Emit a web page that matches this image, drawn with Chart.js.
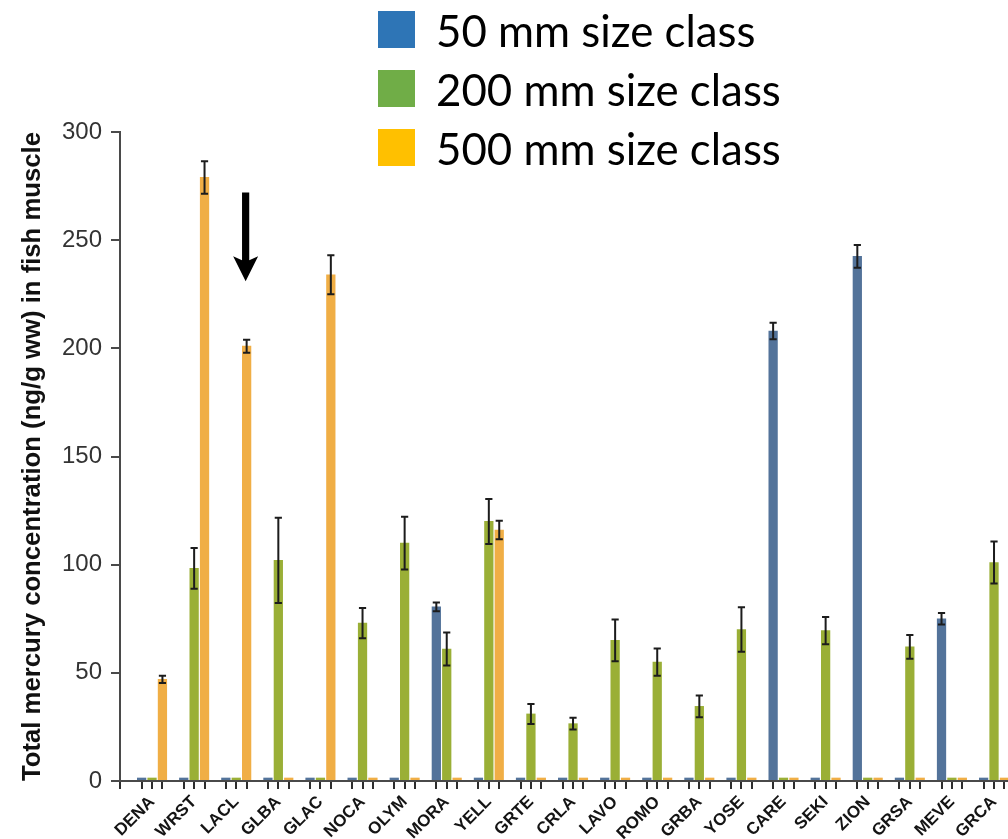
<!DOCTYPE html>
<html>
<head>
<meta charset="utf-8">
<script src="https://cdn.jsdelivr.net/npm/chart.js@4.4.1/dist/chart.umd.min.js"></script>
<style>
  html, body { margin: 0; padding: 0; background: #fff; overflow: hidden; }
  #wrap { position: relative; width: 1008px; height: 839px; }
  #legend { position: absolute; left: 378px; top: 11px; font-family: Lato, "Open Sans", sans-serif; font-size: 43.8px; color: #000; }
  #legend .item { display: flex; align-items: center; height: 37px; margin-bottom: 22px; white-space: nowrap; }
  #legend .sw { width: 37px; height: 37px; margin-right: 21px; flex: none; }
</style>
</head>
<body>
<div id="wrap">
  <canvas id="chart" width="1008" height="839"></canvas>
  <div id="legend"></div>
</div>
<script>
// Park units
const categories = ['DENA','WRST','LACL','GLBA','GLAC','NOCA','OLYM','MORA','YELL','GRTE','CRLA',
                    'LAVO','ROMO','GRBA','YOSE','CARE','SEKI','ZION','GRSA','MEVE','GRCA'];

// Mean total Hg (ng/g ww) per size class, with standard errors
const mm50     = [0, 0, 0, 0, 0, 0, 0, 80.5, 0, 0, 0, 0, 0, 0, 0, 208, 0, 242.5, 0, 75, 0];
const mm50Err  = [0, 0, 0, 0, 0, 0, 0, 2, 0, 0, 0, 0, 0, 0, 0, 3.8, 0, 5.3, 0, 2.7, 0];
const mm200    = [0, 98.3, 0, 102, 0, 73, 110, 61, 120, 31, 26.5, 65, 55, 34.5, 70, 0, 69.5, 0, 62, 0, 101];
const mm200Err = [0, 9.4, 0, 19.7, 0, 7, 12.2, 7.6, 10.4, 4.6, 2.7, 9.6, 6.3, 5, 10.3, 0, 6.3, 0, 5.5, 0, 9.7];
const mm500    = [47, 279, 201, 0, 234, 0, 0, 0, 116, 0, 0, 0, 0, 0, 0, 0, 0, 0, 0, 0, 0];
const mm500Err = [1.7, 7.5, 3, 0, 9, 0, 0, 0, 4.3, 0, 0, 0, 0, 0, 0, 0, 0, 0, 0, 0, 0];

const seriesLabels = ['50 mm size class', '200 mm size class', '500 mm size class'];
const barColors    = ['#53739A', '#9AAF36', '#F0AE45'];
const legendColors = ['#2E75B6', '#70AD47', '#FFC000'];

const yTicks = [0, 50, 100, 150, 200, 250, 300];

// Call-out arrow pointing at the LACL 500 mm bar (value range of the arrow)
const arrowSite = 'LACL';
const arrowSeries = 2;
const arrowFromTo = [272, 231];

// Offset of each bar within its group, in category units
const GROUP_STEP = 0.247;

const toPoints = (arr) => arr.map((v, i) => ({ x: i, y: v }));

const errorBars = {
  id: 'errorBars',
  afterDatasetsDraw(chart) {
    const ctx = chart.ctx;
    const ys = chart.scales.y;
    ctx.save();
    ctx.strokeStyle = '#1c1c1c';
    ctx.lineWidth = 2;
    chart.data.datasets.forEach((ds, di) => {
      const meta = chart.getDatasetMeta(di);
      ds.errors.forEach((e, i) => {
        if (!e) return;
        const bar = meta.data[i];
        const v = ds.data[i].y;
        const top = ys.getPixelForValue(v + e);
        const bot = ys.getPixelForValue(v - e);
        const cap = 3.6;
        ctx.beginPath();
        ctx.moveTo(bar.x, top); ctx.lineTo(bar.x, bot);
        ctx.moveTo(bar.x - cap, top); ctx.lineTo(bar.x + cap, top);
        ctx.moveTo(bar.x - cap, bot); ctx.lineTo(bar.x + cap, bot);
        ctx.stroke();
      });
    });
    ctx.restore();
  }
};

const calloutArrow = {
  id: 'calloutArrow',
  afterDraw(chart) {
    const ctx = chart.ctx;
    const ys = chart.scales.y;
    const idx = categories.indexOf(arrowSite);
    const bar = chart.getDatasetMeta(arrowSeries).data[idx];
    const x = bar.x - 1;
    const yTail = ys.getPixelForValue(arrowFromTo[0]);
    const yTip = ys.getPixelForValue(arrowFromTo[1]);
    const shaft = 3.6, head = 12.5, headLen = 25;
    ctx.save();
    ctx.fillStyle = '#000';
    ctx.beginPath();
    ctx.moveTo(x - shaft, yTail);
    ctx.lineTo(x + shaft, yTail);
    ctx.lineTo(x + shaft, yTip - headLen + 4);
    ctx.lineTo(x + head, yTip - headLen);
    ctx.lineTo(x, yTip);
    ctx.lineTo(x - head, yTip - headLen);
    ctx.lineTo(x - shaft, yTip - headLen + 4);
    ctx.closePath();
    ctx.fill();
    ctx.restore();
  }
};

const seriesData = [mm50, mm200, mm500];
const seriesErr = [mm50Err, mm200Err, mm500Err];

const chart = new Chart(document.getElementById('chart'), {
  type: 'bar',
  data: {
    datasets: seriesData.map((d, k) => ({
      label: seriesLabels[k],
      data: toPoints(d),
      errors: seriesErr[k],
      backgroundColor: barColors[k],
      borderWidth: 0,
      barThickness: 10.4,
      maxBarThickness: 8.6,
      minBarLength: 3
    }))
  },
  options: {
    responsive: false,
    animation: false,
    layout: { padding: { top: 132, right: 0, bottom: 0, left: 0 } },
    plugins: { legend: { display: false }, tooltip: { enabled: false } },
    scales: {
      x: {
        type: 'linear',
        min: -0.761,
        max: 20.332,
        offset: false,
        grid: { display: true, offset: false, drawOnChartArea: false, drawTicks: true, tickLength: 8, color: '#2e2e2e', lineWidth: 2 },
        border: { display: true, color: '#4a4a4a', width: 2, z: 1 },
        afterBuildTicks(scale) {
          const t = [{ value: scale.min }];
          categories.forEach((_, i) => [-1, 0, 1].forEach(k => t.push({ value: i + k * GROUP_STEP })));
          scale.ticks = t.filter(tk => tk.value <= scale.max);
        },
        afterFit(scale) {
          scale.height = 58;
          scale.paddingLeft = 0;
          scale.paddingRight = 0;
        },
        ticks: {
          autoSkip: false,
          minRotation: 45,
          maxRotation: 45,
          padding: 3,
          color: '#141414',
          font: { family: 'Liberation Sans, Arial, sans-serif', size: 17, weight: 'bold' },
          callback(v) {
            const i = Math.round(v);
            return Math.abs(v - i) < 1e-6 ? categories[i] : '';
          }
        }
      },
      y: {
        min: 0,
        max: 300,
        afterBuildTicks(scale) { scale.ticks = yTicks.map(v => ({ value: v })); },
        afterFit(scale) { scale.width = 120; },
        grid: { display: true, drawOnChartArea: false, drawTicks: true, tickLength: 9, color: '#4a4a4a', lineWidth: 2 },
        border: { display: true, color: '#4a4a4a', width: 2, z: 1 },
        ticks: {
          padding: 9,
          color: '#333',
          font: { family: 'Liberation Sans, Arial, sans-serif', size: 24 }
        },
        title: {
          display: true,
          text: 'Total mercury concentration (ng/g ww) in fish muscle',
          color: '#111',
          padding: { top: 17, bottom: 0 },
          font: { family: 'Liberation Sans, Arial, sans-serif', size: 25.7, weight: 'bold' }
        }
      }
    }
  },
  plugins: [errorBars, calloutArrow]
});

// Legend built from the series labels
const legend = document.getElementById('legend');
seriesLabels.forEach((lab, k) => {
  const row = document.createElement('div');
  row.className = 'item';
  const sw = document.createElement('span');
  sw.className = 'sw';
  sw.style.background = legendColors[k];
  const tx = document.createElement('span');
  tx.textContent = lab;
  row.appendChild(sw);
  row.appendChild(tx);
  legend.appendChild(row);
});
</script>
</body>
</html>
